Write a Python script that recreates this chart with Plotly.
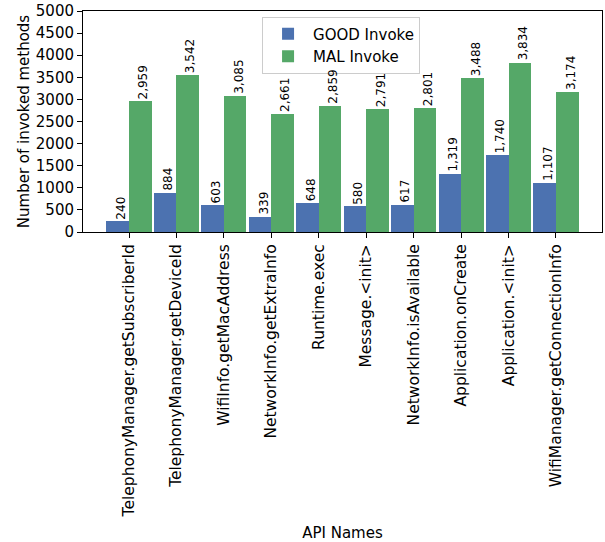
import plotly.graph_objects as go

categories = ["TelephonyManager.getSubscriberId", "TelephonyManager.getDeviceId",
              "WifiInfo.getMacAddress", "NetworkInfo.getExtraInfo", "Runtime.exec",
              "Message.<init>", "NetworkInfo.isAvailable", "Application.onCreate",
              "Application.<init>", "WifiManager.getConnectionInfo"]
good_invoke = [240, 884, 603, 339, 648, 580, 617, 1319, 1740, 1107]
mal_invoke = [2959, 3542, 3085, 2661, 2859, 2791, 2801, 3488, 3834, 3174]
y_ticks = [0, 500, 1000, 1500, 2000, 2500, 3000, 3500, 4000, 4500, 5000]

W = 0.475
BLUE = "#4C72B0"
GREEN = "#55A868"
FONT = "DejaVu Sans"

xs = list(range(len(categories)))
ticktext = [c.replace("<", "&lt;").replace(">", "&gt;") for c in categories]

fig = go.Figure()
fig.add_bar(x=xs, y=good_invoke, name="GOOD Invoke", width=W, offset=-W,
            marker=dict(color=BLUE, line=dict(width=0)))
fig.add_bar(x=xs, y=mal_invoke, name="MAL Invoke", width=W, offset=0,
            marker=dict(color=GREEN, line=dict(width=0)))

for i, (g, m) in enumerate(zip(good_invoke, mal_invoke)):
    for xv, yv in ((i - W / 2, g), (i + W / 2, m)):
        fig.add_annotation(x=xv, y=yv, text=f"{yv:,}", showarrow=False,
                           textangle=-90, yanchor="bottom", xanchor="center",
                           yshift=0, xshift=3,
                           font=dict(family=FONT, size=12, color="black"))

fig.update_layout(
    width=605, height=542,
    margin=dict(l=83, r=3, t=11, b=310),
    plot_bgcolor="white", paper_bgcolor="white",
    font=dict(family=FONT, size=15, color="black"),
    bargap=0, barmode="overlay",
    showlegend=True,
    legend=dict(x=0.345, y=0.975, xanchor="left", yanchor="top", itemwidth=40,
                bgcolor="rgba(255,255,255,0.8)", bordercolor="#cccccc", borderwidth=1,
                font=dict(family=FONT, size=15)),
    xaxis=dict(range=[-0.97, 9.97], tickvals=xs, ticktext=ticktext, tickangle=-90,
               showline=True, linecolor="black", linewidth=1, mirror=True,
               ticks="outside", ticklen=5, tickcolor="black", showgrid=False,
               zeroline=False, tickfont=dict(family=FONT, size=15.5), automargin=False,
               title=dict(text="API Names", font=dict(family=FONT, size=15), standoff=22)),
    yaxis=dict(range=[0, 5000], tickvals=y_ticks,
               showline=True, linecolor="black", linewidth=1, mirror=True,
               ticks="outside", ticklen=5, tickcolor="black", showgrid=False,
               zeroline=False, tickfont=dict(family=FONT, size=15), automargin=False,
               title=dict(text="Number of invoked methods", font=dict(family=FONT, size=15),
                          standoff=2)),
)

fig.write_html("out.html", config={"displayModeBar": False},
               post_script="document.body.style.margin='0px';document.body.style.overflow='hidden';")
